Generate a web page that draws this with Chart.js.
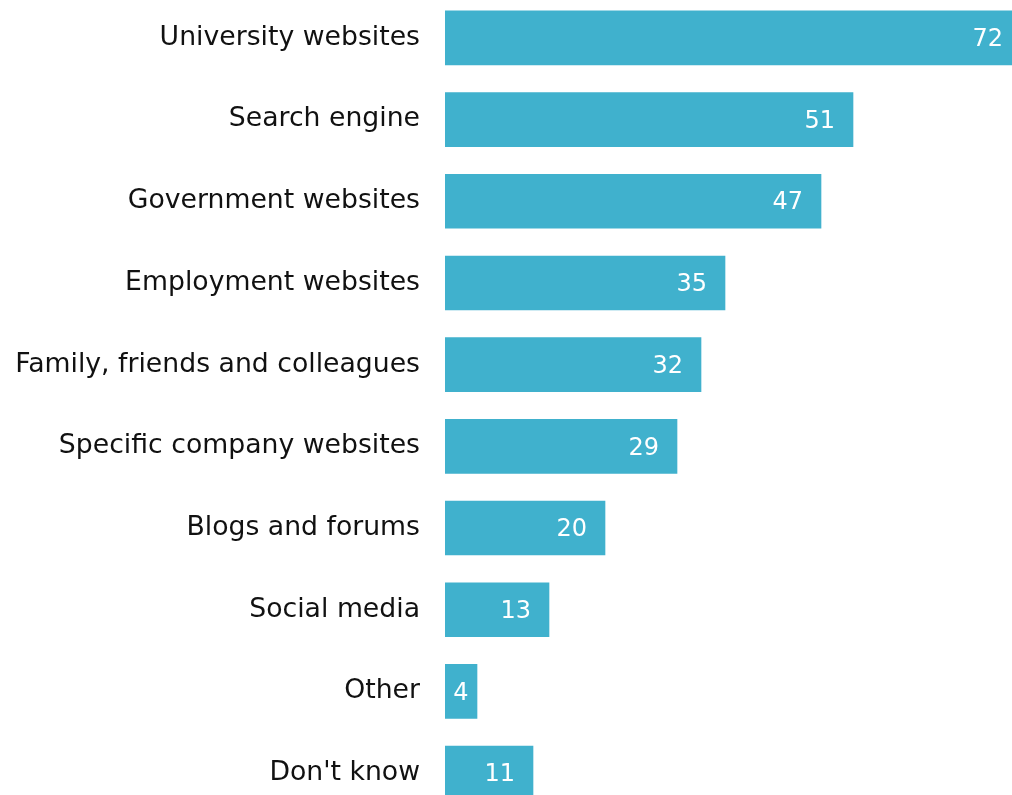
<!DOCTYPE html>
<html>
<head>
<meta charset="utf-8">
<script src="https://cdn.jsdelivr.net/npm/chart.js@4/dist/chart.umd.min.js"></script>
<style>
  html, body { margin: 0; padding: 0; background: #fff; overflow: hidden; width: 1012px; height: 795px; }
  /* the axis keeps tick padding above and below the bars, so the canvas is shifted up to hide it */
  #sources { position: absolute; left: 0; top: -44px; }
</style>
</head>
<body>
<canvas id="sources" width="1029" height="899"></canvas>
<script>
const categories = [
    "University websites",
    "Search engine",
    "Government websites",
    "Employment websites",
    "Family, friends and colleagues",
    "Specific company websites",
    "Blogs and forums",
    "Social media",
    "Other",
    "Don't know"
]
const shares = [72, 51, 47, 35, 32, 29, 20, 13, 4, 11]

const barColor = "rgb(64, 177, 205)"
const fontFamily = "'DejaVu Sans', Verdana, sans-serif"

// white numbers inside the end of each bar
const valueLabels = {
    id: "valueLabels",
    afterDatasetsDraw(chart) {
        const ctx = chart.ctx
        const meta = chart.getDatasetMeta(0)
        ctx.save()
        ctx.font = "24px " + fontFamily
        ctx.fillStyle = "#fff"
        ctx.textBaseline = "middle"
        ctx.textAlign = "center"
        meta.data.forEach((bar, i) => {
            const text = String(shares[i])
            const w = ctx.measureText(text).width
            const left = bar.base
            const right = bar.x
            let x = right - 18 - w / 2
            if (x - w / 2 < left + 4) x = (left + right) / 2
            ctx.fillText(text, x, bar.y + 2)
        })
        ctx.restore()
    }
}

const data = {
    labels: categories,
    datasets: [{
        data: shares,
        backgroundColor: barColor,
        borderWidth: 0,
        barThickness: 54
    }]
}

const config = {
    type: "bar",
    data: data,
    options: {
        indexAxis: "y",
        responsive: false,
        animation: false,
        devicePixelRatio: 1,
        layout: { padding: 0 },
        plugins: {
            legend: { display: false },
            tooltip: { enabled: false }
        },
        scales: {
            x: {
                min: 0,
                max: 73,
                display: false
            },
            y: {
                grid: { display: false, drawTicks: false },
                border: { display: false },
                ticks: {
                    color: "#111",
                    padding: 25,
                    font: { family: fontFamily, size: 26.7 }
                },
                afterFit(scale) {
                    scale.width = 445
                }
            }
        }
    },
    plugins: [valueLabels]
}

document.addEventListener("DOMContentLoaded", () => {
    let ctx = document.getElementById("sources")
    new Chart(ctx, config)
})
</script>
</body>
</html>
